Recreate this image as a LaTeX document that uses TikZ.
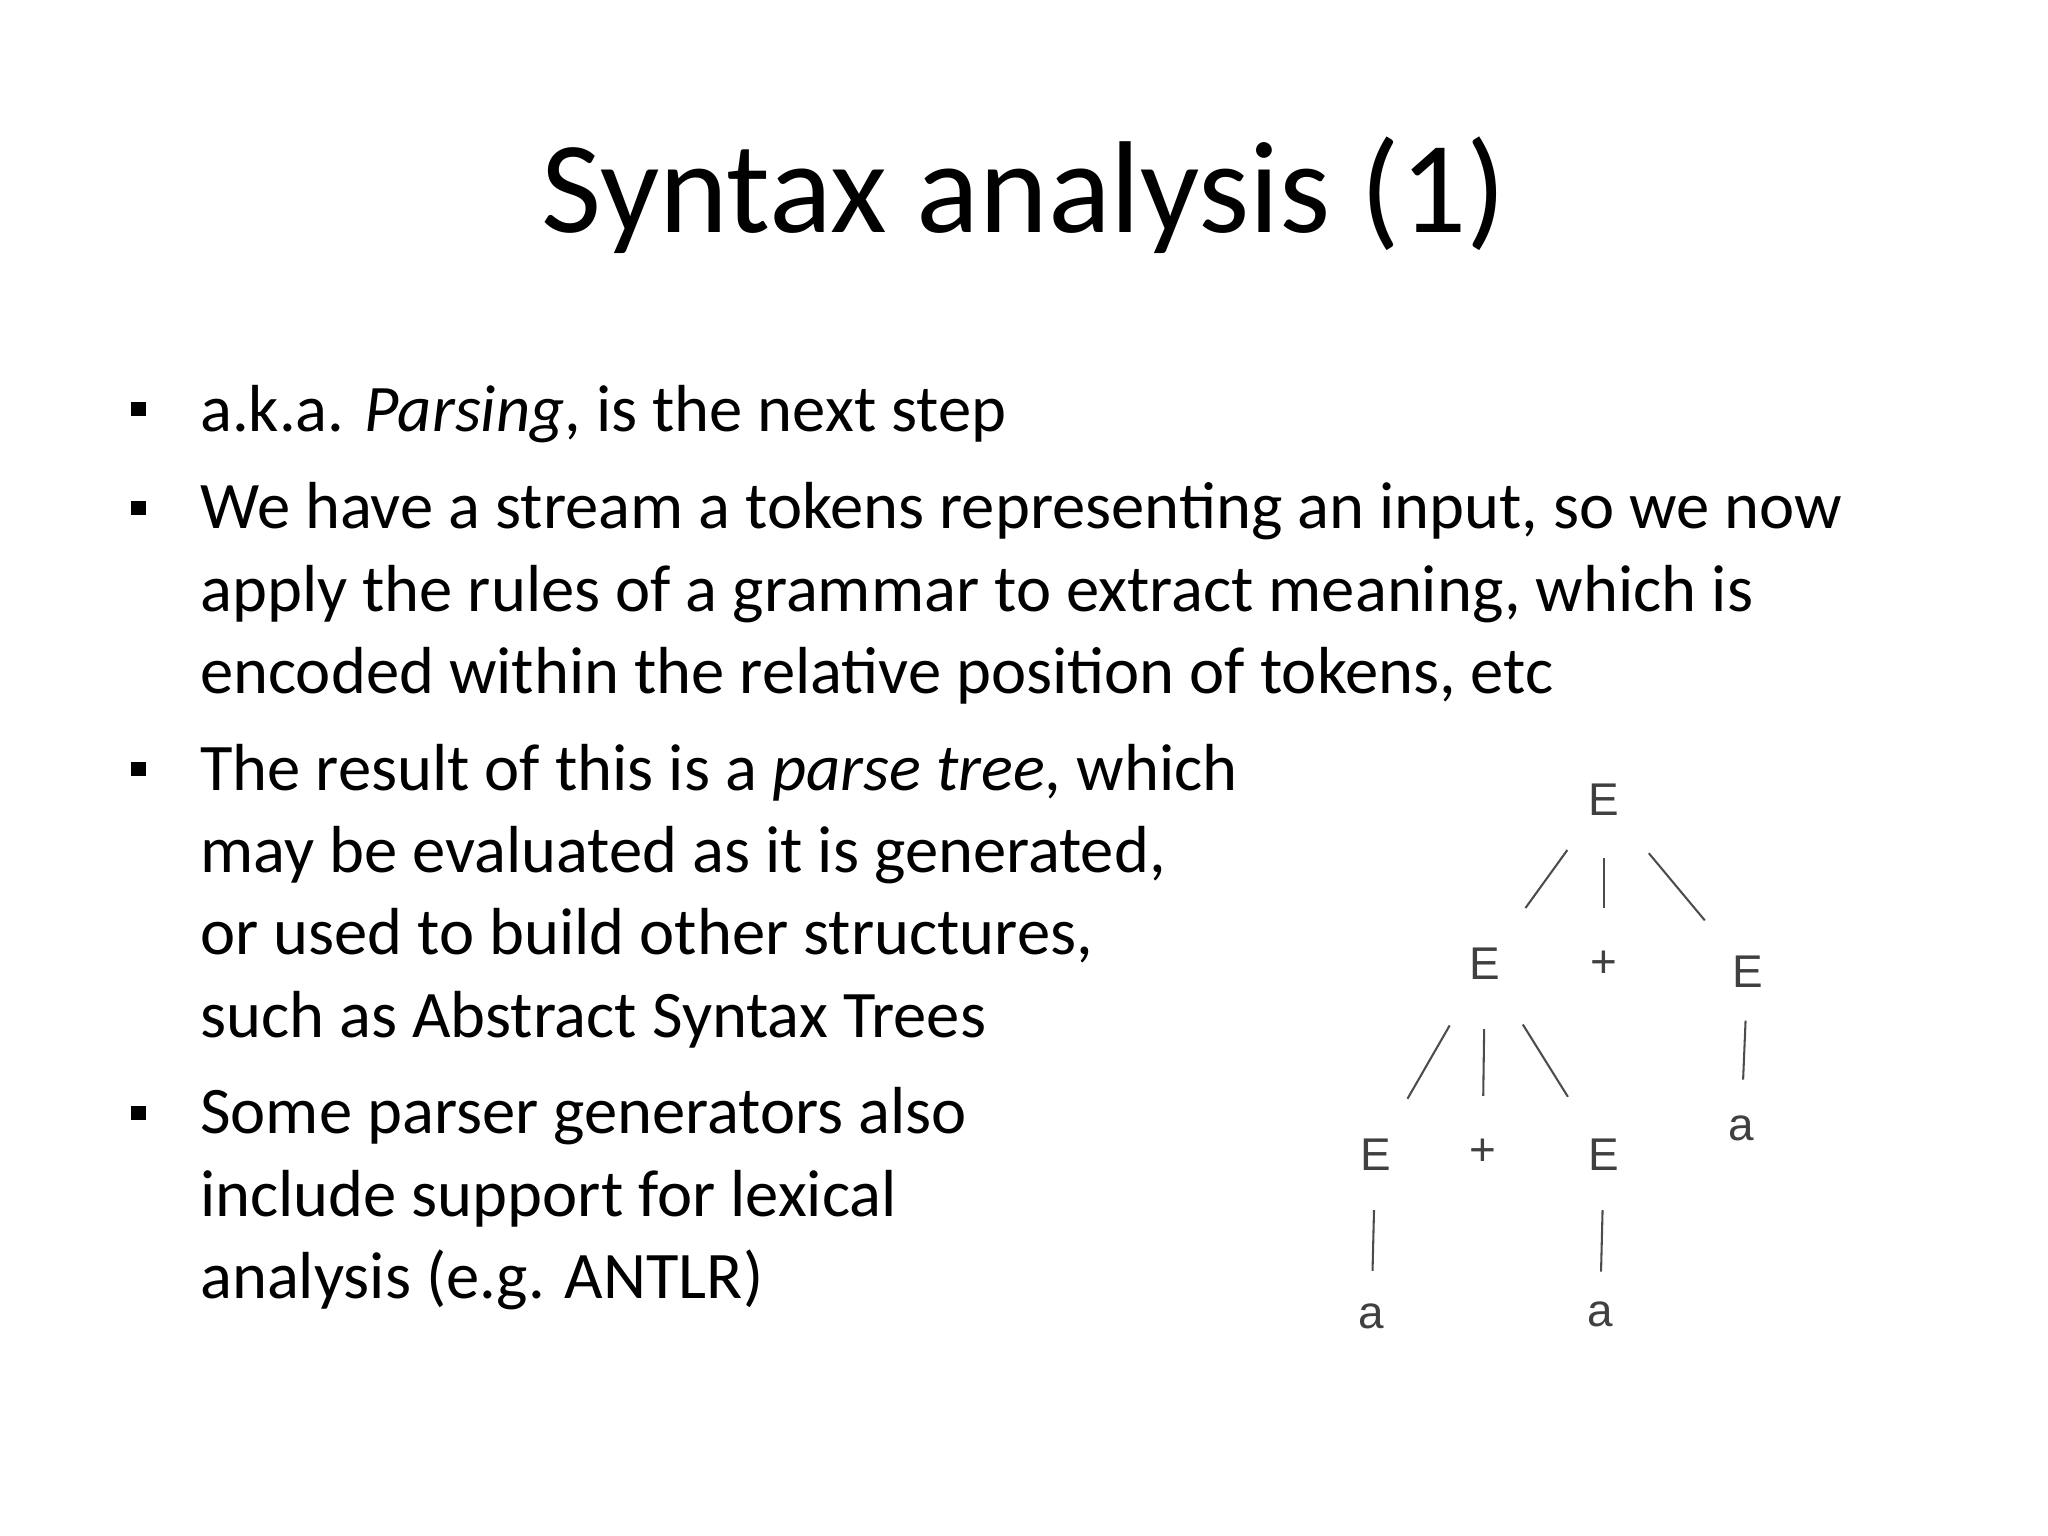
\documentclass[tikz,border=0pt]{standalone}
\usepackage{fontspec}
\setmainfont{Carlito}
\newfontfamily\treefont{Liberation Sans}
\begin{document}
\begin{tikzpicture}[x=0.02cm,y=-0.02cm,
  txt/.style={anchor=base west,inner sep=0,font=\fontsize{29}{35}\selectfont},
  bul/.style={fill=black,minimum size=0.22cm,inner sep=0},
  tn/.style={font=\treefont\fontsize{20}{24}\selectfont,inner sep=0,text=black!75},
  tl/.style={draw=black!70,line width=0.9pt}]
\useasboundingbox (0,0) rectangle (1568,1176);
\node[font=\fontsize{57}{68}\selectfont,anchor=base] (title) at (784,178) {Syntax analysis (1)};
\node[bul] (b1) at (106,313) {};
\node[bul] (b2) at (106,389) {};
\node[bul] (b3) at (106,589) {};
\node[bul] (b4) at (106,852) {};
\node[txt] (l1) at (153,330) {a.k.a. \textit{Parsing}, is the next step};
\node[txt] (l2) at (153,405) {We have a stream a tokens representing an input, so we now};
\node[txt] (l3) at (153,468) {apply the rules of a grammar to extract meaning, which is};
\node[txt] (l4) at (153,531) {encoded within the relative position of tokens, etc};
\node[txt] (l5) at (153,605) {The result of this is a \textit{parse tree}, which};
\node[txt] (l6) at (153,668) {may be evaluated as it is generated,};
\node[txt] (l7) at (153,731) {or used to build other structures,};
\node[txt] (l8) at (153,794) {such as Abstract Syntax Trees};
\node[txt] (l9) at (153,868) {Some parser generators also};
\node[txt] (l10) at (153,931) {include support for lexical};
\node[txt] (l11) at (153,994) {analysis (e.g. ANTLR)};
% tree
\node[tn] (r) at (1228,612) {E};
\node[tn] (e1) at (1137,738) {E};
\node[tn] (p1) at (1228,738) {+};
\node[tn] (e2) at (1338,744) {E};
\node[tn] (e3) at (1053,884) {E};
\node[tn] (p2) at (1135,882) {+};
\node[tn] (e4) at (1228,884) {E};
\node[tn] (a3) at (1333,864) {a};
\node[tn] (a1) at (1050,1008) {a};
\node[tn] (a2) at (1225,1006) {a};
\draw[tl,shorten <=0.65cm,shorten >=0.75cm] (r) -- (e1);
\draw[tl,shorten <=0.65cm,shorten >=0.65cm] (r) -- (p1);
\draw[tl,shorten <=0.75cm,shorten >=0.7cm] (r) -- (e2);
\draw[tl,shorten <=0.8cm,shorten >=0.7cm] (e1) -- (e3);
\draw[tl,shorten <=0.75cm,shorten >=0.65cm] (e1) -- (p2);
\draw[tl,shorten <=0.8cm,shorten >=0.75cm] (e1) -- (e4);
\draw[tl,shorten <=0.5cm,shorten >=0.55cm] (e2) -- (a3);
\draw[tl,shorten <=0.6cm,shorten >=0.5cm] (e3) -- (a1);
\draw[tl,shorten <=0.6cm,shorten >=0.45cm] (e4) -- (a2);
\end{tikzpicture}
\end{document}
